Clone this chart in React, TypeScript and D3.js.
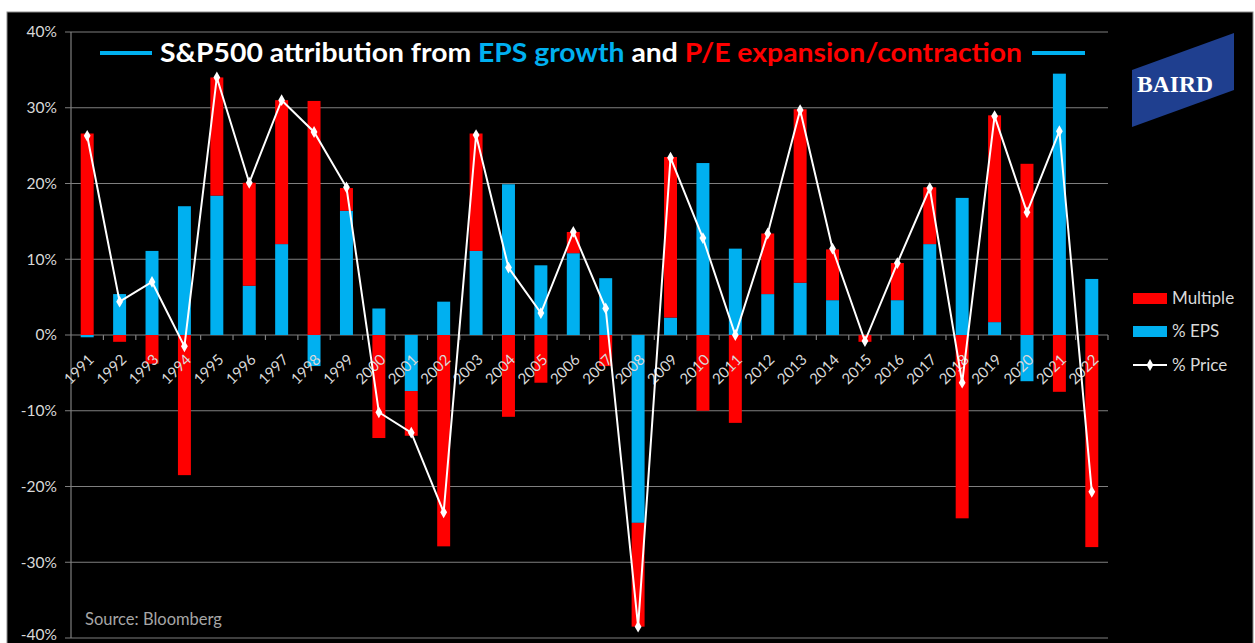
import React from 'react';
import * as d3 from 'd3';

const years = ['1991', '1992', '1993', '1994', '1995', '1996', '1997', '1998', '1999', '2000', '2001', '2002', '2003', '2004', '2005', '2006', '2007', '2008', '2009', '2010', '2011', '2012', '2013', '2014', '2015', '2016', '2017', '2018', '2019', '2020', '2021', '2022'];

// % EPS contribution
const epsValues = [-0.3, 5.4, 11.1, 17.0, 18.4, 6.5, 12.0, -4.1, 16.4, 3.5, -7.4, 4.4, 11.1, 19.9, 9.2, 10.8, 7.5, -24.8, 2.3, 22.7, 11.4, 5.4, 6.9, 4.6, 0.0, 4.6, 12.0, 18.1, 1.7, -6.1, 34.5, 7.4];

// P/E multiple contribution
const multipleValues = [26.6, -0.9, -3.8, -18.5, 15.6, 13.6, 19.0, 30.9, 3.0, -13.6, -5.9, -27.9, 15.5, -10.8, -6.3, 2.8, -4.1, -13.7, 21.2, -10.0, -11.6, 8.0, 22.9, 6.7, -0.9, 4.9, 7.5, -24.2, 27.3, 22.6, -7.5, -28.0];

// % price change
const priceValues = [26.3, 4.4, 7.0, -1.5, 34.0, 20.1, 31.0, 26.8, 19.5, -10.2, -12.9, -23.4, 26.4, 8.9, 2.9, 13.6, 3.5, -38.5, 23.4, 12.8, 0.0, 13.4, 29.7, 11.4, -0.8, 9.5, 19.4, -6.3, 28.9, 16.2, 26.9, -20.7];

const yTicks = [40, 30, 20, 10, 0, -10, -20, -30, -40];

const RED = '#ff0000';
const BLUE = '#00b0f0';
const GRID = '#7f7f7f';
const LABEL = '#d9d9d9';
const FONT = 'Lato, "Open Sans", sans-serif';

export default function App() {
  const width = 1255;
  const height = 643;
  const plot = { left: 71, right: 1108, top: 32, bottom: 638 };

  const x = d3.scaleBand()
    .domain(years)
    .range([plot.left, plot.right])
    .paddingInner(0.6)
    .paddingOuter(0.3);

  const y = d3.scaleLinear()
    .domain([-40, 40])
    .range([plot.bottom, plot.top]);

  const rows = years.map((yr, i) => ({ year: yr, eps: epsValues[i], multiple: multipleValues[i] }));
  const stacked = d3.stack<any>()
    .keys(['eps', 'multiple'])
    .offset(d3.stackOffsetDiverging)(rows);
  const colors: Record<string, string> = { eps: BLUE, multiple: RED };

  const step = x.step();
  const center = (yr: string) => (x(yr) as number) + x.bandwidth() / 2;

  const line = d3.line<number>()
    .x((_, i) => center(years[i]))
    .y((d) => y(d));

  const diamond = d3.symbol().type(d3.symbolDiamond).size(40)();

  return (
    <svg width={width} height={height} style={{ position: 'absolute', left: 0, top: 0 }}>
      <rect x={0} y={0} width={width} height={height} fill="#ffffff" />
      <rect x={7} y={12} width={1246} height={height} fill="#000000" stroke="#8c8c8c" strokeWidth={1} />

      {/* gridlines + y axis labels */}
      {yTicks.map((t) => (
        <g key={t}>
          <line x1={plot.left - 6} x2={plot.right} y1={y(t)} y2={y(t)} stroke={GRID} strokeWidth={1.2} />
          <text x={57} y={t === -40 ? y(t) - 3 : y(t)} dy="0.35em" textAnchor="end" fill={LABEL} fontSize={15.5} fontFamily={FONT}>{t}%</text>
        </g>
      ))}
      <line x1={plot.left} x2={plot.left} y1={plot.top} y2={plot.bottom} stroke={GRID} strokeWidth={1.2} />

      {/* bars */}
      {stacked.map((s) => (
        <g key={s.key} fill={colors[s.key]}>
          {s.map((d: any) => (
            <rect
              key={d.data.year}
              x={x(d.data.year)}
              width={x.bandwidth()}
              y={y(Math.max(d[0], d[1]))}
              height={Math.abs(y(d[0]) - y(d[1]))}
            />
          ))}
        </g>
      ))}

      {/* x axis ticks (category boundaries) */}
      {years.map((yr, i) => (
        <line key={yr} x1={plot.left + step * (i + 1)} x2={plot.left + step * (i + 1)} y1={y(0)} y2={y(0) + 5} stroke={GRID} strokeWidth={1.2} />
      ))}
      {years.map((yr) => (
        <text
          key={yr}
          transform={`translate(${center(yr) + 4},${y(0) + 22}) rotate(-45)`}
          textAnchor="end"
          dy="0.35em"
          fill={LABEL}
          fontSize={15}
          fontFamily={FONT}
        >{yr}</text>
      ))}

      {/* price line */}
      <path d={line(priceValues) as string} fill="none" stroke="#ffffff" strokeWidth={2} />
      {priceValues.map((v, i) => (
        <path key={i} d={diamond as string} transform={`translate(${center(years[i])},${y(v)})`} fill="#ffffff" />
      ))}

      {/* title */}
      <line x1={100} x2={152} y1={53} y2={53} stroke={BLUE} strokeWidth={4} />
      <text x={160} y={62} fontSize={26} fontWeight="bold" fontFamily={FONT} fill="#ffffff" textLength={862} lengthAdjust="spacingAndGlyphs">
        S&amp;P500 attribution from <tspan fill={BLUE}>EPS growth</tspan> and <tspan fill={RED}>P/E expansion/contraction</tspan>
      </text>
      <line x1={1032} x2={1085} y1={53} y2={53} stroke={BLUE} strokeWidth={4} />

      {/* logo */}
      <polygon points="1132,70 1234,33 1234,90 1132,127" fill="#1f3f8f" />
      <text x={1175} y={92} textAnchor="middle" fontSize={23} fontWeight="bold" fontFamily='"Liberation Serif", "DejaVu Serif", serif' fill="#ffffff" textLength={76} lengthAdjust="spacingAndGlyphs">BAIRD</text>

      {/* legend */}
      <rect x={1133} y={293} width={34} height={11} fill={RED} />
      <text x={1172} y={298} dy="0.35em" fill={LABEL} fontSize={17} fontFamily={FONT}>Multiple</text>
      <rect x={1133} y={326} width={34} height={11} fill={BLUE} />
      <text x={1172} y={331} dy="0.35em" fill={LABEL} fontSize={17} fontFamily={FONT}>% EPS</text>
      <line x1={1133} x2={1167} y1={365} y2={365} stroke="#ffffff" strokeWidth={2} />
      <path d={diamond as string} transform="translate(1150,365)" fill="#ffffff" />
      <text x={1172} y={365} dy="0.35em" fill={LABEL} fontSize={17} fontFamily={FONT}>% Price</text>

      <text x={85} y={625} fill="#a6a6a6" fontSize={16.5} fontFamily={FONT}>Source: Bloomberg</text>
    </svg>
  );
}
